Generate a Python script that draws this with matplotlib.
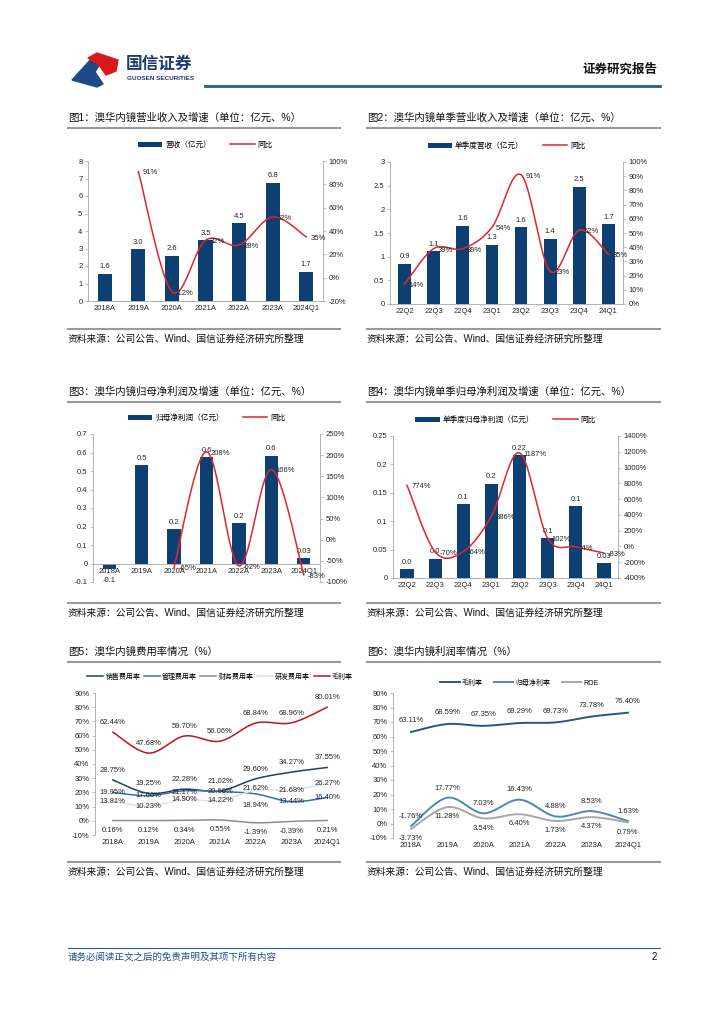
# Guosen report page 2: Aohua endoscopy revenue / profit / margin charts
import numpy as np
import matplotlib
matplotlib.use("Agg")
import matplotlib.pyplot as plt
from matplotlib.patches import Polygon

W, H = 724, 1024
plt.rcParams['font.family'] = ['Liberation Sans', 'Noto Sans CJK SC']
plt.rcParams['axes.unicode_minus'] = False

NAVY = "#0E3F73"
RED = "#E0262B"
AXC = "#A6A6A6"
TXT = "#262626"
FS = 5.5

# ---------------- data ----------------
years = ["2018A", "2019A", "2020A", "2021A", "2022A", "2023A", "2024Q1"]
quarters = ["22Q2", "22Q3", "22Q4", "23Q1", "23Q2", "23Q3", "23Q4", "24Q1"]

# fig1 annual revenue
rev_year = [1.55, 2.95, 2.60, 3.46, 4.45, 6.76, 1.68]
rev_year_lbl = ["1.6", "3.0", "2.6", "3.5", "4.5", "6.8", "1.7"]
rev_year_yoy = [91, -12, 32, 28, 52, 35]          # from 2019A

# fig2 quarterly revenue
rev_q = [0.85, 1.12, 1.65, 1.25, 1.62, 1.38, 2.48, 1.68]
rev_q_lbl = ["0.9", "1.1", "1.6", "1.3", "1.6", "1.4", "2.5", "1.7"]
rev_q_yoy = [14, 39, 39, 54, 91, 23, 52, 35]

# fig3 annual net profit
np_year = [-0.03, 0.53, 0.186, 0.573, 0.219, 0.582, 0.029]
np_year_lbl = ["-0.1", "0.5", "0.2", "0.6", "0.2", "0.6", "0.03"]
np_year_yoy = [-65, 208, -62, 166, -83]            # from 2020A

# fig4 quarterly net profit
np_q = [0.015, 0.034, 0.130, 0.166, 0.216, 0.070, 0.126, 0.026]
np_q_lbl = ["0.0", "0.0", "0.1", "0.2", "0.22", "0.1", "0.1", "0.03"]
np_q_yoy = [774, -70, -64, 386, 1187, 102, -4, -83]

# fig5 expense ratios (%)
sales_exp = [28.75, 19.25, 22.28, 21.02, 29.60, 34.27, 37.55]
admin_exp = [19.95, 17.66, 21.17, 20.60, 18.94, 13.44, 16.40]
fin_exp = [0.16, 0.12, 0.34, 0.55, -1.39, -0.39, 0.21]
rd_exp = [13.81, 10.23, 14.90, 14.22, 21.62, 21.68, 26.27]
gm5 = [62.44, 47.68, 59.70, 56.06, 68.84, 68.96, 80.01]

# fig6 profitability (%)
gross_margin = [63.11, 68.59, 67.35, 69.29, 69.73, 73.78, 76.40]
net_margin = [-1.76, 17.77, 7.03, 16.43, 4.88, 8.53, 1.63]
roe = [-3.73, 11.28, 3.54, 6.40, 1.73, 4.37, 0.79]

fig = plt.figure(figsize=(W / 100, H / 100), dpi=100)


def px_axes(x0, y0, x1, y1):
    return fig.add_axes([x0 / W, 1 - y1 / H, (x1 - x0) / W, (y1 - y0) / H])


def ftext(x, y, s, **kw):
    fig.text(x / W, 1 - y / H, s, **kw)


def hline(x0, x1, y, color, lw):
    fig.add_artist(plt.Line2D([x0 / W, x1 / W], [1 - y / H, 1 - y / H], color=color, lw=lw))


# smoothed curve through the points (like excel "smoothed line")
def smooth(x, y, n=24):
    x = np.asarray(x, float)
    y = np.asarray(y, float)
    xs, ys = [], []
    t = np.linspace(0, 1, n)
    for i in range(len(x) - 1):
        p0 = max(i - 1, 0)
        p3 = min(i + 2, len(x) - 1)
        c1x = x[i] + (x[i + 1] - x[p0]) / 6
        c1y = y[i] + (y[i + 1] - y[p0]) / 6
        c2x = x[i + 1] - (x[p3] - x[i]) / 6
        c2y = y[i + 1] - (y[p3] - y[i]) / 6
        xs.append((1 - t) ** 3 * x[i] + 3 * (1 - t) ** 2 * t * c1x + 3 * (1 - t) * t ** 2 * c2x + t ** 3 * x[i + 1])
        ys.append((1 - t) ** 3 * y[i] + 3 * (1 - t) ** 2 * t * c1y + 3 * (1 - t) * t ** 2 * c2y + t ** 3 * y[i + 1])
    return np.concatenate(xs), np.concatenate(ys)


def style_axis(ax):
    for s in ["top", "right"]:
        ax.spines[s].set_visible(False)
    ax.spines["left"].set_color(AXC)
    ax.spines["bottom"].set_color(AXC)
    ax.spines["left"].set_linewidth(0.6)
    ax.spines["bottom"].set_linewidth(0.6)
    ax.tick_params(axis="y", labelsize=FS, length=2, width=0.5, color=AXC, labelcolor=TXT, pad=2)
    ax.tick_params(axis="x", labelsize=FS, length=0, labelcolor=TXT, pad=3)


def bar_line(box, cats, bars, bar_lbls, ylim, yticks, ytl, yoy_x, yoy, y2lim, y2ticks, names, bw):
    ax = px_axes(*box)
    x = np.arange(len(cats))
    ax.bar(x, bars, width=bw, color=NAVY, zorder=2, label=names[0])
    for xi, v, s in zip(x, bars, bar_lbls):
        if v >= 0:
            ax.annotate(s, (xi, v), xytext=(0, 2.5), textcoords="offset points",
                        ha="center", va="bottom", fontsize=FS, color=TXT)
        else:
            ax.annotate(s, (xi, v), xytext=(0, -6), textcoords="offset points",
                        ha="center", va="top", fontsize=FS, color=TXT)
    ax.set_xlim(-0.5, len(cats) - 0.5)
    ax.set_ylim(*ylim)
    ax.set_yticks(yticks)
    ax.set_yticklabels(ytl)
    ax.set_xticks(x)
    ax.set_xticklabels(cats)
    style_axis(ax)
    ax.spines["bottom"].set_position(("data", 0))

    ax2 = ax.twinx()
    sx, sy = smooth(yoy_x, yoy)
    ax2.plot(sx, sy, color=RED, lw=1.1, label=names[1])
    for xi, v in zip(yoy_x, yoy):
        ax2.annotate(f"{v}%", (xi, v), xytext=(3, -1), textcoords="offset points",
                     ha="left", va="center", fontsize=FS, color=TXT)
    ax2.set_ylim(*y2lim)
    ax2.set_yticks(y2ticks)
    ax2.set_yticklabels([f"{t}%" for t in y2ticks])
    for s in ["top", "left", "bottom"]:
        ax2.spines[s].set_visible(False)
    ax2.spines["right"].set_color(AXC)
    ax2.spines["right"].set_linewidth(0.6)
    ax2.tick_params(axis="y", labelsize=FS, length=2, width=0.5, color=AXC, labelcolor=TXT, pad=2)

    h1, l1 = ax.get_legend_handles_labels()
    h2, l2 = ax2.get_legend_handles_labels()
    hgt = box[3] - box[1]
    ax2.legend(h1 + h2, l1 + l2, loc="center", bbox_to_anchor=(0.5, 1 + 16 / hgt), ncol=2,
               frameon=False, fontsize=FS, handlelength=3.2, handleheight=0.6, columnspacing=2.5,
               handletextpad=0.4)
    return ax, ax2


# ---------------- header ----------------
fig.add_artist(Polygon([(72 / W, 1 - 80 / H), (93 / W, 1 - 57 / H), (100 / W, 1 - 64 / H),
                        (95 / W, 1 - 72 / H), (103 / W, 1 - 84 / H), (97 / W, 1 - 87 / H)],
                       closed=True, color="#1E4B87", transform=fig.transFigure))
fig.add_artist(Polygon([(88 / W, 1 - 58 / H), (97 / W, 1 - 53 / H), (118 / W, 1 - 60 / H),
                        (116 / W, 1 - 71 / H), (106 / W, 1 - 75 / H), (99 / W, 1 - 65 / H)],
                       closed=True, color="#D7191C", transform=fig.transFigure))
ftext(126, 64, "国信证券", fontsize=12, color="#1F3A6E", va="center", ha="left", fontweight="bold")
ftext(127, 78, "GUOSEN SECURITIES", fontsize=4.6, color="#1F3A6E", va="center", ha="left", fontweight="bold")
ftext(657, 70, "证券研究报告", fontsize=9, color="#111111", va="center", ha="right", fontweight="bold")
hline(205, 660, 86, "#1F5C99", 2.0)

# ---------------- titles / sources ----------------
titles = [(68, 118, "图1：澳华内镜营业收入及增速（单位：亿元、%）"),
          (367, 118, "图2：澳华内镜单季营业收入及增速（单位：亿元、%）"),
          (68, 392, "图3：澳华内镜归母净利润及增速（单位：亿元、%）"),
          (367, 392, "图4：澳华内镜单季归母净利润及增速（单位：亿元、%）"),
          (68, 652, "图5：澳华内镜费用率情况（%）"),
          (367, 652, "图6：澳华内镜利润率情况（%）")]
for x, y, s in titles:
    ftext(x, y, s, fontsize=7.5, color="#111111", va="center", ha="left")
    x1 = 340 if x < 300 else 660
    hline(x, x1, y + 9.5, "#9A9A9A", 1.5)

src = "资料来源：公司公告、Wind、国信证券经济研究所整理"
for y in [329, 603, 862]:
    for x0, x1 in [(68, 340), (367, 660)]:
        hline(x0, x1, y, "#9A9A9A", 1.5)
        ftext(x0, y + 10, src, fontsize=7, color="#111111", va="center", ha="left")

# ---------------- fig1 ----------------
bar_line((88, 161, 323, 301), years, rev_year, rev_year_lbl, (0, 8), range(0, 9),
         [str(i) for i in range(9)], list(range(1, 7)), rev_year_yoy, (-20, 100),
         list(range(-20, 101, 20)), ["营收（亿元）", "同比"], 0.42)

# ---------------- fig2 ----------------
t2 = [0, 0.5, 1, 1.5, 2, 2.5, 3]
bar_line((390, 162, 623, 304), quarters, rev_q, rev_q_lbl, (0, 3), t2,
         ["0", "0.5", "1", "1.5", "2", "2.5", "3"], list(range(8)), rev_q_yoy, (0, 100),
         list(range(0, 101, 10)), ["单季度营收（亿元）", "同比"], 0.44)

# ---------------- fig3 ----------------
t3 = [-0.1, 0, 0.1, 0.2, 0.3, 0.4, 0.5, 0.6, 0.7]
bar_line((93, 434, 320, 582), years, np_year, np_year_lbl, (-0.1, 0.7), t3,
         ["-0.1", "0", "0.1", "0.2", "0.3", "0.4", "0.5", "0.6", "0.7"], list(range(2, 7)),
         np_year_yoy, (-100, 250), list(range(-100, 251, 50)), ["归母净利润（亿元）", "同比"], 0.41)

# ---------------- fig4 ----------------
t4 = [0, 0.05, 0.1, 0.15, 0.2, 0.25]
bar_line((393, 436, 618, 578), quarters, np_q, np_q_lbl, (0, 0.25), t4,
         ["0", "0.05", "0.1", "0.15", "0.2", "0.25"], list(range(8)), np_q_yoy, (-400, 1400),
         list(range(-400, 1401, 200)), ["单季度归母净利润（亿元）", "同比"], 0.47)


# ---------------- fig5 / fig6 line charts ----------------
# offs: label offset in points, one value per series or a list per point
def line_chart(box, series, names, colors, lws, offs, legend_y, ncol, hl, cs):
    ax = px_axes(*box)
    x = np.arange(len(years))
    for vals, name, c, lw, off in zip(series, names, colors, lws, offs):
        sx, sy = smooth(x, vals)
        ax.plot(sx, sy, color=c, lw=lw, label=name)
        if not isinstance(off, list):
            off = [off] * len(vals)
        for xi, v, o in zip(x, vals, off):
            ax.annotate(f"{v:.2f}%", (xi, v), xytext=(0, o), textcoords="offset points",
                        ha="center", va="center", fontsize=FS, color=TXT)
    ax.set_xlim(-0.5, len(years) - 0.5)
    ax.set_ylim(-10, 90)
    ax.set_yticks(range(-10, 91, 10))
    ax.set_yticklabels([f"{t}%" for t in range(-10, 91, 10)])
    ax.set_xticks(x)
    ax.set_xticklabels(years)
    style_axis(ax)
    ax.spines["bottom"].set_visible(False)
    hgt = box[3] - box[1]
    ax.legend(loc="center", bbox_to_anchor=(0.5, 1 + legend_y / hgt), ncol=ncol, frameon=False,
              fontsize=5, handlelength=hl, columnspacing=cs, handletextpad=0.3)
    return ax


line_chart((95, 693, 345, 835),
           [sales_exp, admin_exp, fin_exp, rd_exp, gm5],
           ["销售费用率", "管理费用率", "财务费用率", "研发费用率", "毛利率"],
           ["#1F3F6E", "#3A6EA8", "#8C8C8C", "#D6E3F2", "#C0141B"],
           [1.1, 1.1, 1.1, 1.1, 1.1],
           [7, [0, 0, -1, 0, -8, 0, 0], -7, [0, 0, 0, 0, 1, 0, 0], 7], 16, 5, 2.3, 0.5)

line_chart((393, 693, 646, 838),
           [gross_margin, net_margin, roe],
           ["毛利率", "归母净利率", "ROE"],
           ["#2B5583", "#4F86C0", "#A6A6A6"],
           [1.4, 1.4, 1.4],
           [8, 7, -7], 10, 3, 2.8, 1.6)

# ---------------- footer ----------------
hline(68, 660, 948, "#1F5C99", 0.8)
ftext(68, 957, "请务必阅读正文之后的免责声明及其项下所有内容", fontsize=6.8, color="#1F4E8C",
      va="center", ha="left", style="italic")
ftext(657, 957, "2", fontsize=7, color="#111111", va="center", ha="right")

fig.savefig("out.png", dpi=100)
